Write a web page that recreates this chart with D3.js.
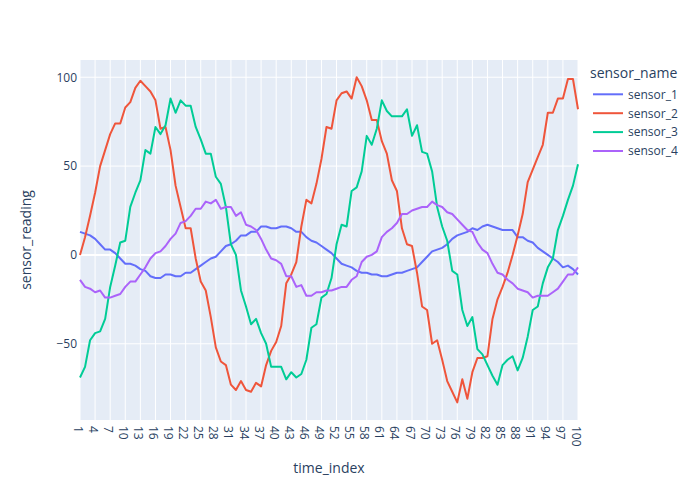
<!DOCTYPE html>
<html>

<head>
    <meta charset="utf-8">
    <title>Sensor readings</title>
    <script src="https://cdn.jsdelivr.net/npm/d3@7"></script>
    <style>
        body { margin: 0; background: #fff; }
        text { font-family: "Open Sans", verdana, arial, sans-serif; fill: #2a3f5f; }
    </style>
</head>

<body>
    <div id="chart"></div>
    <script>
        // Data
        const timeIndex = [1, 2, 3, 4, 5, 6, 7, 8, 9, 10, 11, 12, 13, 14, 15, 16, 17, 18, 19, 20,
            21, 22, 23, 24, 25, 26, 27, 28, 29, 30, 31, 32, 33, 34, 35, 36, 37, 38, 39, 40,
            41, 42, 43, 44, 45, 46, 47, 48, 49, 50, 51, 52, 53, 54, 55, 56, 57, 58, 59, 60,
            61, 62, 63, 64, 65, 66, 67, 68, 69, 70, 71, 72, 73, 74, 75, 76, 77, 78, 79, 80,
            81, 82, 83, 84, 85, 86, 87, 88, 89, 90, 91, 92, 93, 94, 95, 96, 97, 98, 99, 100];

        const sensorNames = ["sensor_1", "sensor_2", "sensor_3", "sensor_4"];
        const sensorColors = ["#636efa", "#EF553B", "#00cc96", "#ab63fa"];

        const sensor1 = [13, 12, 11, 9, 6, 3, 3, 1, -2, -5, -5, -6, -8, -9, -12, -13, -13, -11, -11, -12, -12, -10, -10, -8, -6,
            -4, -2, -1, 2, 5, 6, 8, 11, 11, 13, 13, 16, 16, 15, 15, 16, 16, 15, 13, 13, 10, 8, 7, 5, 3,
            1, -2, -5, -6, -7, -9, -10, -10, -11, -11, -12, -12, -11, -10, -10, -9, -8, -7, -4, -1, 2, 3, 4, 6, 9,
            11, 12, 13, 15, 14, 16, 17, 16, 15, 14, 14, 14, 10, 10, 8, 7, 4, 2, 0, -2, -4, -7, -6, -8, -11];

        const sensor2 = [0, 10, 22, 35, 50, 59, 68, 74, 74, 83, 86, 94, 98, 95, 92, 87, 71, 72, 59, 39, 27, 15, 15, -2, -15,
            -20, -35, -52, -60, -62, -73, -76, -71, -76, -77, -72, -74, -62, -54, -49, -40, -16, -11, -4, 16, 31, 29, 40, 54, 72,
            71, 87, 91, 92, 88, 100, 95, 87, 76, 76, 64, 57, 42, 36, 15, 6, 5, -10, -29, -31, -50, -48, -59, -71, -77,
            -83, -70, -81, -66, -58, -58, -57, -36, -25, -18, -10, 0, 11, 23, 41, 48, 55, 62, 80, 80, 88, 88, 99, 99, 82];

        const sensor3 = [-69, -63, -48, -44, -43, -36, -18, -6, 7, 8, 27, 35, 42, 59, 57, 72, 68, 73, 88, 80, 87, 84, 84, 72, 65,
            57, 57, 44, 40, 27, 6, 0, -20, -29, -39, -36, -44, -50, -63, -63, -63, -70, -66, -69, -67, -59, -41, -39, -24, -22,
            -13, 6, 17, 16, 36, 38, 47, 67, 62, 71, 87, 81, 78, 78, 78, 82, 67, 73, 58, 57, 47, 27, 16, 8, -9,
            -11, -31, -40, -35, -53, -56, -62, -68, -73, -62, -59, -57, -65, -58, -46, -31, -29, -16, -7, -2, 14, 22, 31, 39, 51];

        const sensor4 = [-14, -18, -19, -21, -20, -24, -24, -23, -22, -18, -15, -15, -11, -7, -2, 1, 2, 5, 9, 12, 18, 19, 22, 26, 26,
            30, 29, 31, 26, 27, 27, 22, 24, 17, 16, 14, 9, 3, -2, -3, -5, -12, -12, -18, -17, -23, -23, -21, -21, -20,
            -20, -19, -18, -18, -14, -12, -4, -1, 0, 2, 10, 13, 15, 18, 23, 23, 25, 26, 27, 27, 30, 28, 27, 24, 23,
            20, 17, 14, 13, 7, 3, 1, -5, -10, -11, -14, -16, -19, -20, -21, -24, -23, -23, -23, -21, -19, -15, -11, -11, -7];

        const xTicks = [1, 4, 7, 10, 13, 16, 19, 22, 25, 28, 31, 34, 37, 40, 43, 46, 49, 52, 55, 58,
            61, 64, 67, 70, 73, 76, 79, 82, 85, 88, 91, 94, 97, 100];
        const yTicks = [-50, 0, 50, 100];

        const allSeries = [sensor1, sensor2, sensor3, sensor4];

        // Plot area
        const W = 700, H = 500;
        const margin = { top: 60, right: 122, bottom: 80, left: 80 };
        const plotW = W - margin.left - margin.right;
        const plotH = H - margin.top - margin.bottom;

        const svg = d3.select("#chart")
            .append("svg")
            .attr("width", W)
            .attr("height", H);

        const x = d3.scaleLinear()
            .domain([1, 100])
            .range([0, plotW]);

        const y = d3.scaleLinear()
            .domain([-92.9, 109.7])
            .range([plotH, 0]);

        const g = svg.append("g")
            .attr("transform", "translate(" + margin.left + "," + margin.top + ")");

        g.append("rect")
            .attr("width", plotW)
            .attr("height", plotH)
            .attr("fill", "#E5ECF6");

        // gridlines
        g.append("g")
            .selectAll("line")
            .data(xTicks)
            .enter()
            .append("line")
            .attr("x1", d => x(d)).attr("x2", d => x(d))
            .attr("y1", 0).attr("y2", plotH)
            .attr("stroke", "#fff")
            .attr("stroke-width", 1);

        g.append("g")
            .selectAll("line")
            .data(yTicks)
            .enter()
            .append("line")
            .attr("x1", 0).attr("x2", plotW)
            .attr("y1", d => y(d)).attr("y2", d => y(d))
            .attr("stroke", "#fff")
            .attr("stroke-width", d => d === 0 ? 2 : 1);

        // y axis labels
        const yAxis = d3.axisLeft(y)
            .tickValues(yTicks)
            .tickSize(0)
            .tickPadding(3)
            .tickFormat(d3.format("d"));

        g.append("g")
            .call(yAxis)
            .call(a => a.select(".domain").remove())
            .selectAll("text")
            .attr("font-size", "12px")
            .style("fill", "#2a3f5f");

        // x axis labels, rotated
        const xAxis = d3.axisBottom(x)
            .tickValues(xTicks)
            .tickSize(0)
            .tickFormat(d3.format("d"));

        g.append("g")
            .attr("transform", "translate(0," + plotH + ")")
            .call(xAxis)
            .call(a => a.select(".domain").remove())
            .selectAll("text")
            .attr("font-size", "12px")
            .style("fill", "#2a3f5f")
            .attr("y", 0)
            .attr("x", 0)
            .attr("dy", 0)
            .attr("transform", "translate(-7,6) rotate(90)")
            .style("text-anchor", "start");

        // lines
        const line = d3.line()
            .x((d, i) => x(timeIndex[i]))
            .y(d => y(d));

        g.append("g")
            .selectAll("path")
            .data(allSeries)
            .enter()
            .append("path")
            .attr("d", d => line(d))
            .attr("fill", "none")
            .attr("stroke", (d, i) => sensorColors[i])
            .attr("stroke-width", 2)
            .attr("stroke-linejoin", "round");

        // axis titles
        svg.append("text")
            .attr("x", margin.left + plotW / 2)
            .attr("y", 473)
            .attr("text-anchor", "middle")
            .attr("font-size", "14px")
            .text("time_index");

        svg.append("text")
            .attr("transform", "translate(31," + (margin.top + plotH / 2) + ") rotate(-90)")
            .attr("text-anchor", "middle")
            .attr("font-size", "14px")
            .text("sensor_reading");

        // legend
        const legend = svg.append("g");

        legend.append("text")
            .attr("x", 590)
            .attr("y", 78)
            .attr("font-size", "14px")
            .text("sensor_name");

        const item = legend.selectAll(".item")
            .data(sensorNames)
            .enter()
            .append("g")
            .attr("class", "item")
            .attr("transform", (d, i) => "translate(0," + (94.3 + i * 18.9) + ")");

        item.append("line")
            .attr("x1", 593).attr("x2", 623)
            .attr("y1", 0).attr("y2", 0)
            .attr("stroke", (d, i) => sensorColors[i])
            .attr("stroke-width", 2);

        item.append("text")
            .attr("x", 628)
            .attr("y", 4.3)
            .attr("font-size", "12px")
            .text(d => d);
    </script>
</body>

</html>
